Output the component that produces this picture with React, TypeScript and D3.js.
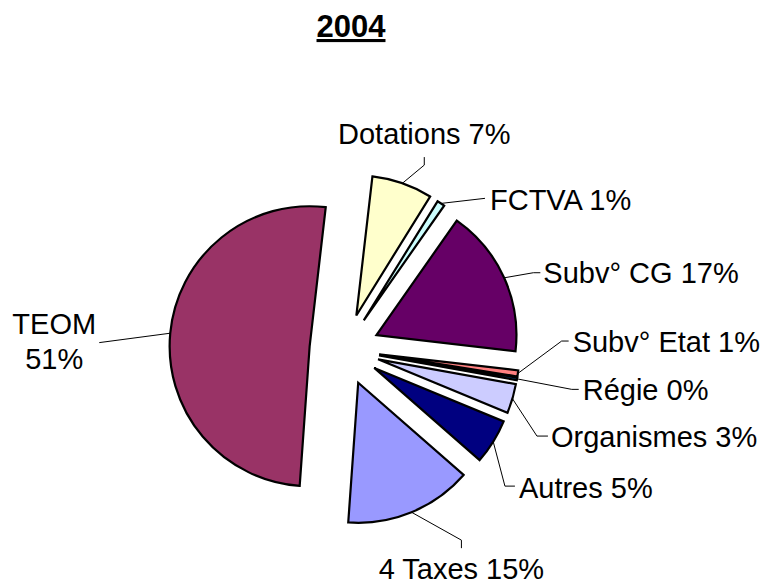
import React from "react";
import * as d3 from "d3";

// ---- data ----
const categories = ["Dotations", "FCTVA", "Subv° CG", "Subv° Etat", "Régie", "Organismes", "Autres", "4 Taxes", "TEOM"];
const values = [7.0, 0.9, 17.1, 0.7, 0.3, 3.4, 5.2, 14.7, 50.7];
const colors = ["#FFFFCC", "#CCFFFF", "#660066", "#FF8080", "#0066CC", "#CCCCFF", "#000080", "#9999FF", "#993366"];
const title = "2004";

// ---- layout (style, not data) ----
const W = 767;
const H = 586;
const center = { x: 344.5, y: 349.5 };
const radius = 140;
const explode = [36, 35, 35, 35, 35, 35, 35, 36, 35];
const startDeg = 6.6;
// leader: elbow offset from arc point, end offset from elbow, text anchor and offset from end
const labelLayout = [
  { elbow: [21.9, -18.2], end: [0, -8], anchor: "middle", tx: 0, ty: -13 },
  { elbow: [44.1, -5.1], end: [0, 0], anchor: "start", tx: 5, ty: 12 },
  { elbow: [29.2, -5.1], end: [7, 0], anchor: "start", tx: 3, ty: 10.5 },
  { elbow: [43.8, -32.4], end: [7, 0], anchor: "start", tx: 4, ty: 10.5 },
  { elbow: [54.7, 10.5], end: [7, 0], anchor: "start", tx: 4, ty: 10.5 },
  { elbow: [24.5, 37.4], end: [11, 0], anchor: "start", tx: 3, ty: 10.5 },
  { elbow: [11.7, 44.4], end: [10, 0], anchor: "start", tx: 4, ty: 12 },
  { elbow: [49.9, 27.9], end: [0, 8], anchor: "middle", tx: 0, ty: 31 },
  { elbow: [-71, 9.4], end: [0, 0], anchor: "middle", tx: -45, ty: -9 },
];

const FONT = "'Liberation Sans', Arial, Helvetica, sans-serif";

export default function App() {
  const total = d3.sum(values);
  const start = (startDeg * Math.PI) / 180;
  const pie = d3
    .pie<number>()
    .sort(null)
    .value((d) => d)
    .startAngle(start)
    .endAngle(start + 2 * Math.PI);
  const arcs = pie(values);
  const arcGen = d3.arc<d3.PieArcDatum<number>>().innerRadius(0).outerRadius(radius);

  return (
    <svg
      width={W}
      height={H}
      style={{ position: "absolute", left: 0, top: 0, background: "#fff" }}
      fontFamily={FONT}
    >
      <rect x={0} y={0} width={W} height={H} fill="#fff" />
      <text
        x={351}
        y={37}
        textAnchor="middle"
        fontSize={31}
        fontWeight="bold"
        textDecoration="underline"
        fill="#000"
      >
        {title}
      </text>
      {arcs.map((a, i) => {
        const mid = (a.startAngle + a.endAngle) / 2;
        const ux = Math.sin(mid);
        const uy = -Math.cos(mid);
        const ox = center.x + explode[i] * ux;
        const oy = center.y + explode[i] * uy;
        return (
          <path
            key={"s" + i}
            d={arcGen(a) || ""}
            transform={`translate(${ox},${oy})`}
            fill={colors[i]}
            stroke="#000"
            strokeWidth={2.2}
            strokeLinejoin="miter"
          />
        );
      })}
      {arcs.map((a, i) => {
        const mid = (a.startAngle + a.endAngle) / 2;
        const ux = Math.sin(mid);
        const uy = -Math.cos(mid);
        const ax = center.x + (explode[i] + radius) * ux;
        const ay = center.y + (explode[i] + radius) * uy;
        const L = labelLayout[i];
        const ex = ax + L.elbow[0];
        const ey = ay + L.elbow[1];
        const fx = ex + L.end[0];
        const fy = ey + L.end[1];
        const pct = Math.round((values[i] / total) * 100) + "%";
        const isTeom = categories[i] === "TEOM";
        return (
          <g key={"l" + i}>
            <polyline
              points={`${ax},${ay} ${ex},${ey} ${fx},${fy}`}
              fill="none"
              stroke="#000"
              strokeWidth={1}
            />
            {isTeom ? (
              <text x={fx + L.tx} y={fy + L.ty} textAnchor="middle" fontSize={29} fill="#000">
                <tspan x={fx + L.tx}>{categories[i]}</tspan>
                <tspan x={fx + L.tx} dy={35}>
                  {pct}
                </tspan>
              </text>
            ) : (
              <text
                x={fx + L.tx}
                y={fy + L.ty}
                textAnchor={L.anchor as any}
                fontSize={29}
                fill="#000"
              >
                {categories[i] + " " + pct}
              </text>
            )}
          </g>
        );
      })}
    </svg>
  );
}
